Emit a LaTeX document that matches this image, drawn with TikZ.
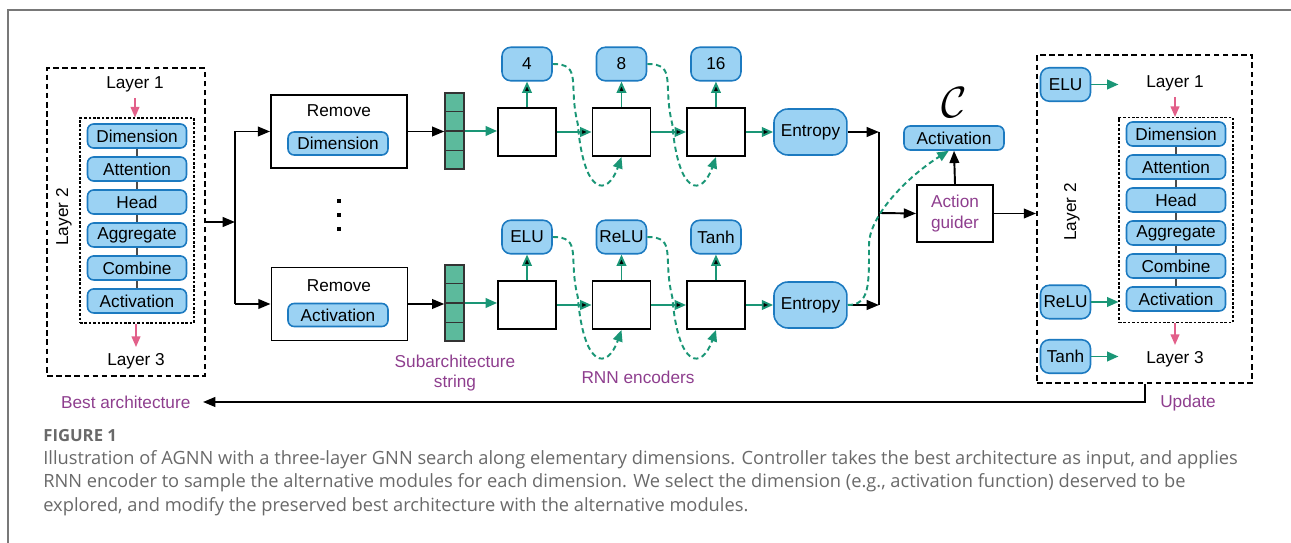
\documentclass[tikz,border=0pt]{standalone}
\usepackage{amsmath}
\usepackage{fontspec}
\setmainfont{Liberation Sans}
\newfontfamily\capfont{Open Sans}
\usetikzlibrary{positioning, arrows.meta, calc}

\definecolor{modfill}{RGB}{155,210,243}
\definecolor{modline}{RGB}{28,122,192}
\definecolor{rnnteal}{RGB}{26,150,118}
\definecolor{vecfill}{RGB}{92,186,156}
\definecolor{pinkarr}{RGB}{226,96,138}
\definecolor{labpurple}{RGB}{142,62,142}
\definecolor{capgray}{RGB}{105,105,105}
\definecolor{framegray}{RGB}{120,120,120}

\begin{document}
\begin{tikzpicture}[x=0.02cm, y=-0.02cm, node distance=1.89cm, on grid,
    font=\fontsize{9.8}{11.5}\selectfont,
    module/.style={draw=modline, fill=modfill, line width=0.9pt, rounded corners=3.5pt,
        minimum width=1.98cm, minimum height=0.48cm, inner sep=0pt},
    choice/.style={module, rounded corners=5pt, minimum width=1cm, minimum height=0.67cm},
    entropy/.style={module, rounded corners=8pt, minimum width=1.46cm, minimum height=0.92cm},
    cell/.style={draw, line width=1.1pt, minimum width=1.16cm, minimum height=0.96cm, inner sep=0pt},
    removebox/.style={draw, line width=1.1pt, minimum width=2.72cm, minimum height=1.46cm},
    vecbox/.style={draw=black!80, fill=vecfill, line width=0.8pt, minimum width=0.38cm,
        minimum height=1.52cm, inner sep=0pt},
    archbox/.style={draw, line width=1.1pt, dash pattern=on 3.2pt off 2pt},
    stackbox/.style={draw, line width=0.6pt, dash pattern=on 1.5pt off 1pt,
        minimum width=2.28cm, minimum height=4.1cm},
    lbl/.style={text=labpurple},
    stackline/.style={draw=black!70, line width=0.7pt},
    blk/.style={-{Triangle[length=7pt,width=5.5pt]}, line width=1.1pt},
    grn/.style={-{Triangle[length=6.5pt,width=5.5pt]}, draw=rnnteal, line width=1.1pt},
    pnk/.style={-{Triangle[length=6pt,width=5pt]}, draw=pinkarr, line width=0.8pt},
    hop/.style={grn, line width=1.1pt, dash pattern=on 3pt off 2pt}]
    \useasboundingbox (0,0) rectangle (1291,543);
    \draw[framegray, line width=0.8pt] (8,543) -- (8,10) -- (1291,10);

    % best architecture (left)
    \node[archbox, minimum width=3.16cm, minimum height=6.16cm] (lbox) at (126,222) {};
    \node[stackbox] (ldin) at (137,220.5) {};
    \node (l1) at (135,84) {Layer 1};
    \node (l3) at (136,361) {Layer 3};
    \node[rotate=90] (l2) at (64,217) {Layer 2};
    \node[module] (lm1) at (137,136) {Dimension};
    \node[module] (lm2) [below=0.66cm of lm1] {Attention};
    \node[module] (lm3) [below=0.66cm of lm2] {Head};
    \node[module] (lm4) [below=0.66cm of lm3] {Aggregate};
    \node[module] (lm5) [below=0.66cm of lm4] {Combine};
    \node[module] (lm6) [below=0.66cm of lm5] {Activation};
    \path[stackline]
    (lm1) edge (lm2) (lm2) edge (lm3) (lm3) edge (lm4)
    (lm4) edge (lm5) (lm5) edge (lm6);
    \draw[pnk] (l1.south) -- (l1.south |- ldin.north);
    \draw[pnk] (ldin.south -| l3) -- (l3.north);

    % remove one dimension
    \coordinate (split) at (235,222);
    \node[removebox] (rmA) at (339,131.5) {};
    \node (rmAt) at (339,111) {Remove};
    \node[module, minimum width=2cm, minimum height=0.46cm] (rmAm) at (338,143.5) {Dimension};
    \node[removebox] (rmB) at (339.5,304) {};
    \node (rmBt) at (339,286) {Remove};
    \node[module, minimum width=2cm, minimum height=0.46cm] (rmBm) at (338,315) {Activation};
    \fill (337,199) rectangle (341,203);
    \fill (337,213) rectangle (341,217);
    \fill (337,227) rectangle (341,231);

    % subarchitecture strings
    \node[vecbox] (vA) at (454.5,131) {};
    \node[vecbox] (vB) at (454.5,303) {};
    \draw[line width=0.8pt, black!80] (vA.west) -- (vA.east)
    ($(vA.north west)!0.25!(vA.south west)$) -- ($(vA.north east)!0.25!(vA.south east)$)
    ($(vA.north west)!0.75!(vA.south west)$) -- ($(vA.north east)!0.75!(vA.south east)$);
    \draw[line width=0.8pt, black!80] (vB.west) -- (vB.east)
    ($(vB.north west)!0.25!(vB.south west)$) -- ($(vB.north east)!0.25!(vB.south east)$)
    ($(vB.north west)!0.75!(vB.south west)$) -- ($(vB.north east)!0.75!(vB.south east)$);
    \node[lbl, align=center] (subs) at (455,373) {Subarchitecture\\string};

    % RNN encoders
    \node[cell] (c1) at (527,132) {};
    \node[cell] (c2) [right=of c1] {};
    \node[cell] (c3) [right=of c2] {};
    \node[entropy] (eA) [right=of c3] {Entropy};
    \node[choice] (oA1) [above=1.36cm of c1] {4};
    \node[choice] (oA2) [above=1.36cm of c2] {8};
    \node[choice] (oA3) [above=1.36cm of c3] {16};
    \node[cell] (c4) at (527,305) {};
    \node[cell] (c5) [right=of c4] {};
    \node[cell] (c6) [right=of c5] {};
    \node[entropy] (eB) [right=of c6] {Entropy};
    \node[choice] (oB1) [above=1.36cm of c4] {ELU};
    \node[choice] (oB2) [above=1.36cm of c5] {ReLU};
    \node[choice] (oB3) [above=1.36cm of c6] {Tanh};
    \node[lbl] (rnnl) at (638,377) {RNN encoders};

    \path[grn]
    (c1) edge (c2) (c2) edge (c3) (c3) edge (eA)
    (c4) edge (c5) (c5) edge (c6) (c6) edge (eB)
    (c1) edge (oA1) (c2) edge (oA2) (c3) edge (oA3)
    (c4) edge (oB1) (c5) edge (oB2) (c6) edge (oB3);
    \draw[hop] (oA1.east) .. controls +(30,0) and +(-10,-40) .. ++(25,60)
        .. controls +(6,72) and +(-14,40) .. (c2.south);
    \draw[hop] (oA2.east) .. controls +(30,0) and +(-10,-40) .. ++(25,60)
        .. controls +(6,72) and +(-14,40) .. (c3.south);
    \draw[hop] (oB1.east) .. controls +(30,0) and +(-10,-40) .. ++(25,60)
        .. controls +(6,72) and +(-14,40) .. (c5.south);
    \draw[hop] (oB2.east) .. controls +(30,0) and +(-10,-40) .. ++(25,60)
        .. controls +(6,72) and +(-14,40) .. (c6.south);

    \draw[blk] (lbox.east) -- (split);
    \draw[line width=1.1pt] (split |- rmA.west) -- (split |- rmB.west);
    \draw[blk] (split |- rmA.west) -- (rmA.west);
    \draw[blk] (split |- rmB.west) -- (rmB.west);
    \draw[blk] (rmA.east) -- (rmA.east -| vA.west);
    \draw[blk] (rmB.east) -- (rmB.east -| vB.west);
    \draw[grn] (vA.east) -- (vA.east -| c1.west);
    \draw[grn] (vB.east) -- (vB.east -| c4.west);

    % action guider
    \coordinate (mg) at (879,213);
    \node[draw, line width=1.1pt, minimum width=1.52cm, minimum height=1.14cm,
        text=labpurple, align=center] (ag) at (955,213.5) {Action\\guider};
    \node[module, minimum width=2cm] (cact) at (954,138) {Activation};
    \node[font=\fontsize{23}{23}\selectfont] (cc) at (954,103) {$\mathcal{C}$};
    \draw[blk] (eA.east) -- (eA.east -| mg);
    \draw[blk] (eB.east) -- (eB.east -| mg);
    \draw[line width=1.1pt] (mg |- eA.east) -- (mg |- eB.east);
    \draw[blk] (mg) -- (ag.west);
    \draw[blk] (ag.north) -- (cact.south);
    \draw[hop] (eB.east) .. controls +(22,0) and +(0,40) .. (869,245)
        .. controls +(0,-30) and +(-40,25) .. ([xshift=-3pt]cact.south);

    % updated architecture (right)
    \node[archbox, minimum width=4.3cm, minimum height=6.56cm] (rbox) at (1144.5,219) {};
    \draw[blk] (ag.east) -- (ag.east -| rbox.west);
    \node[stackbox] (rdin) at (1176,220) {};
    \node (rl1) at (1175,83) {Layer 1};
    \node (rl3) at (1175,359) {Layer 3};
    \node[rotate=90] (rl2) at (1072,212) {Layer 2};
    \node[module] (rm1) at (1176,134) {Dimension};
    \node[module] (rm2) [below=0.66cm of rm1] {Attention};
    \node[module] (rm3) [below=0.66cm of rm2] {Head};
    \node[module] (rm4) [below=0.66cm of rm3] {Aggregate};
    \node[module] (rm5) [below=0.66cm of rm4] {Combine};
    \node[module] (rm6) [below=0.66cm of rm5] {Activation};
    \path[stackline]
    (rm1) edge (rm2) (rm2) edge (rm3) (rm3) edge (rm4)
    (rm4) edge (rm5) (rm5) edge (rm6);
    \draw[pnk] (rl1.south) -- (rl1.south |- rdin.north);
    \draw[pnk] (rdin.south -| rl3) -- (rl3.north);
    \node[choice] (elu2) at (1065.5,84.5) {ELU};
    \node[choice] (relu2) at (1065.5,302) {ReLU};
    \node[choice] (tanh2) at (1065.5,356.5) {Tanh};
    \draw[grn] (elu2.east) -- (elu2.east -| rdin.west);
    \draw[grn] (relu2.east) -- (relu2.east -| rdin.west);
    \draw[grn] (tanh2.east) -- (tanh2.east -| rdin.west);

    % feedback
    \coordinate (updc) at (1145,403);
    \node[lbl] (upd) at (1188,403) {Update};
    \node[lbl, anchor=east, inner sep=7pt] (best) at (203,402) {Best architecture};
    \draw[blk] (rbox.south -| updc) |- (best.east);

    % caption
    \node[anchor=base west, inner sep=0pt, text=capgray,
        font=\capfont\fontsize{9.5}{11}\selectfont\bfseries] (fig) at (43,442) {FIGURE 1};
    \node[anchor=base west, inner sep=0pt, text=capgray,
        font=\capfont\fontsize{10.4}{12}\selectfont] (cap1) at (43,465)
        {Illustration of AGNN with a three-layer GNN search along elementary dimensions. Controller takes the best architecture as input, and applies};
    \node[anchor=base west, inner sep=0pt, text=capgray,
        font=\capfont\fontsize{10.4}{12}\selectfont] (cap2) at (43,488)
        {RNN encoder to sample the alternative modules for each dimension. We select the dimension (e.g., activation function) deserved to be};
    \node[anchor=base west, inner sep=0pt, text=capgray,
        font=\capfont\fontsize{10.4}{12}\selectfont] (cap3) at (43,511)
        {explored, and modify the preserved best architecture with the alternative modules.};
\end{tikzpicture}
\end{document}
